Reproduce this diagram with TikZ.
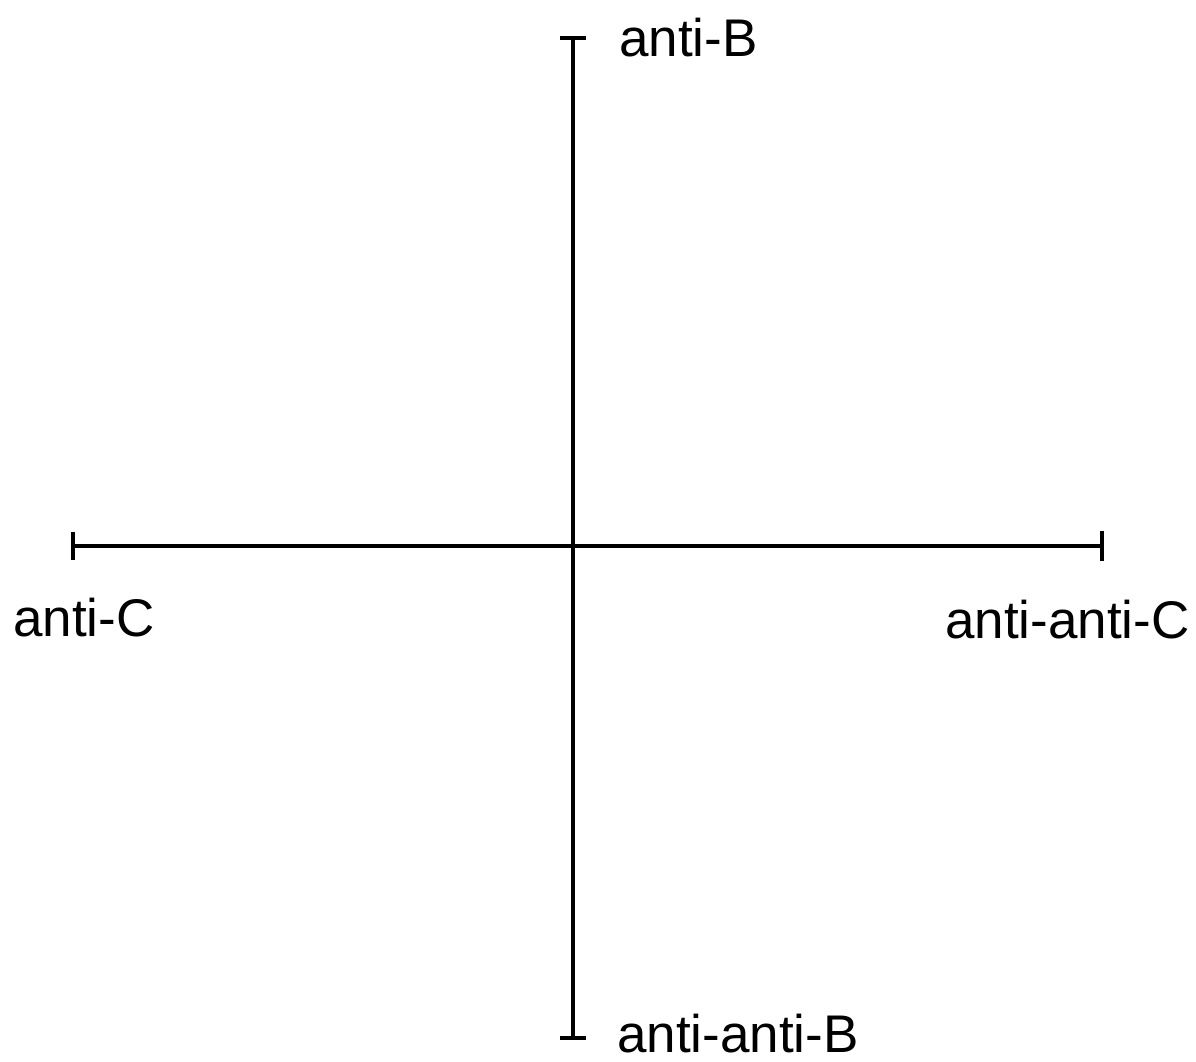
\documentclass[tikz,border=0pt]{standalone}
\usepackage{fontspec}
\setmainfont{Liberation Sans}
\begin{document}
\begin{tikzpicture}[x=1pt,y=-1pt,
  axis/.style={line width=4.5pt,black},
  lbl/.style={anchor=base west,inner sep=0pt,font=\fontsize{53}{60}\selectfont}]
\useasboundingbox (0,0) rectangle (1196,1061);
\coordinate (T) at (573,38);
\coordinate (Bo) at (573,1038);
\coordinate (L) at (73,546);
\coordinate (R) at (1102,546);
\draw[axis] (T) -- (Bo);
\draw[axis] (L) -- (R);
\draw[axis] ([xshift=-13pt]T) -- ([xshift=13pt]T);
\draw[axis] ([xshift=-13pt]Bo) -- ([xshift=13pt]Bo);
\draw[axis] ([yshift=-14pt]L) -- ([yshift=14pt]L);
\draw[axis] ([yshift=-15pt]R) -- ([yshift=15pt]R);
\node[lbl] (nb) at (619,56) {anti-B};
\node[lbl] (nab) at (617,1052) {anti-anti-B};
\node[lbl] (nc) at (13,636) {anti-C};
\node[lbl] (nac) at (945,638) {anti-anti-C};
\end{tikzpicture}
\end{document}
